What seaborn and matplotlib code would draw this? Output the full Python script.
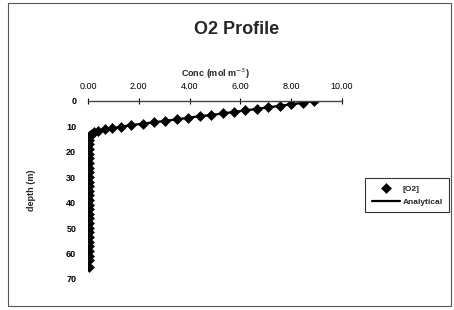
"""O2 profile: measured [O2] points and analytical curve vs depth."""
import matplotlib
matplotlib.use("Agg")
import matplotlib.pyplot as plt
from matplotlib.patches import Rectangle
from matplotlib.ticker import FormatStrFormatter
import pandas as pd
import seaborn as sns

# -- Data ----------------------------------------------------------------------
conc_o2 = [8.90, 8.45, 8.00, 7.55, 7.10, 6.65, 6.20, 5.75, 5.30, 4.85,
           4.40, 3.95, 3.50, 3.05, 2.60, 2.15, 1.70, 1.30, 0.95, 0.65,
           0.40, 0.25, 0.15, 0.08,
           0.05, 0.04, 0.04, 0.03, 0.03, 0.03, 0.03, 0.03, 0.03, 0.03,
           0.03, 0.03, 0.03, 0.03, 0.03, 0.03, 0.03, 0.03, 0.03, 0.03,
           0.03, 0.03, 0.03, 0.03, 0.03, 0.03, 0.03, 0.03]
depth_m = [0.0, 0.7, 1.3, 1.9, 2.5, 3.1, 3.7, 4.3, 4.9, 5.5,
           6.0, 6.6, 7.2, 7.8, 8.4, 8.9, 9.5, 10.1, 10.7, 11.2,
           11.7, 12.2, 12.8, 13.5,
           15.3, 17.1, 18.9, 20.8, 22.6, 24.4, 26.2, 28.0, 29.9, 31.7,
           33.5, 35.3, 37.1, 39.0, 40.8, 42.6, 44.4, 46.2, 48.1, 49.9,
           51.7, 53.5, 55.3, 57.2, 59.0, 60.8, 62.6, 65.3]
x_ticks = [0, 2, 4, 6, 8, 10]
y_ticks = [0, 10, 20, 30, 40, 50, 60, 70]

W, H = 454, 310
FONT = ["Liberation Sans", "DejaVu Sans"]

sns.set_theme(style="white")
plt.rcParams["font.family"] = FONT


def main() -> None:
    df = pd.DataFrame({"conc": conc_o2, "depth": depth_m})

    fig = plt.figure(figsize=(W / 100, H / 100), dpi=100)
    ax = fig.add_axes([88 / W, 1 - 279 / H, 254 / W, 178 / H])

    sns.lineplot(data=df, x="conc", y="depth", sort=False, color="black",
                 linewidth=1.6, label="Analytical", ax=ax, legend=False)
    sns.scatterplot(data=df, x="conc", y="depth", marker="D", s=26,
                    color="black", edgecolor="black", linewidth=0.4,
                    label="[O2]", ax=ax, legend=False)

    ax.set_xlim(0, 10)
    ax.set_ylim(70, 0)
    ax.xaxis.tick_top()
    ax.xaxis.set_label_position("top")
    ax.set_xticks(x_ticks)
    ax.set_yticks(y_ticks)
    ax.xaxis.set_major_formatter(FormatStrFormatter("%.2f"))
    ax.tick_params(axis="x", direction="inout", length=4, width=0.8,
                   labelsize=6.5, pad=5, colors="black")
    ax.tick_params(axis="y", direction="out", length=2.5, width=0.6,
                   labelsize=6.5, pad=6, colors="black")
    for lbl in ax.get_xticklabels() + ax.get_yticklabels():
        lbl.set_fontweight("bold")

    for side in ["left", "right", "bottom"]:
        ax.spines[side].set_visible(False)
    ax.spines["top"].set_position(("data", 0))
    ax.spines["top"].set_color("#444444")
    ax.spines["top"].set_linewidth(1.0)
    ax.set_facecolor("white")

    ax.set_xlabel("Conc (mol m$^{-3}$)", fontsize=6.5, fontweight="bold",
                  labelpad=4)
    ax.set_ylabel("depth (m)", fontsize=6.5, fontweight="bold", labelpad=22)

    fig.text(0.522, 1 - 30 / H, "O2 Profile", ha="center", va="center",
             fontsize=13, fontweight="bold")

    handles, labels = ax.get_legend_handles_labels()
    order = [labels.index("[O2]"), labels.index("Analytical")]
    leg = fig.legend([handles[i] for i in order], [labels[i] for i in order],
                     loc="upper left", bbox_to_anchor=(361 / W, 1 - 174 / H),
                     fontsize=6, frameon=True, fancybox=False,
                     edgecolor="black", borderpad=0.8, handlelength=3.4,
                     labelspacing=0.6, handletextpad=0.3)
    leg.get_frame().set_linewidth(0.8)
    for t in leg.get_texts():
        t.set_fontweight("bold")

    fig.patches.append(Rectangle((8 / W, 4 / H), 443 / W, 303 / H,
                                 transform=fig.transFigure, fill=False,
                                 edgecolor="#555555", linewidth=0.8))

    fig.savefig("out.png", dpi=100)
    plt.close(fig)


if __name__ == "__main__":
    main()
